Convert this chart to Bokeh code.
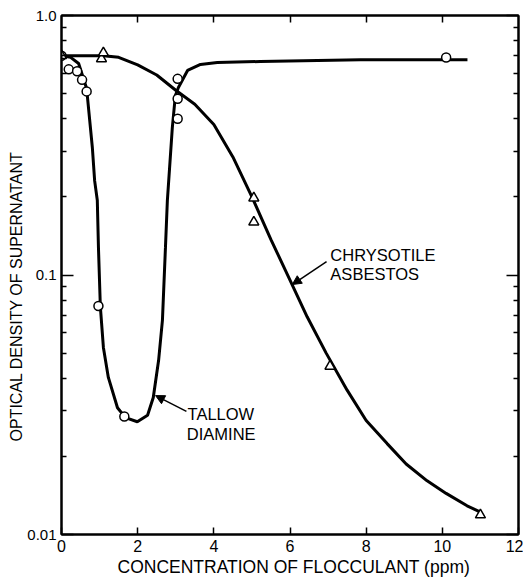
from bokeh.plotting import figure
from bokeh.models import (LinearAxis, LogAxis, FixedTicker, CustomJSTickFormatter,
                          Label, Arrow, NormalHead, Range1d, Title)
from bokeh.embed import file_html
from bokeh.resources import INLINE

# ---- data ----
tallow_pts_x = [0.0, 0.19, 0.41, 0.54, 0.66, 0.97, 1.65, 3.05, 3.05, 3.05, 10.1]
tallow_pts_y = [0.70, 0.62, 0.61, 0.565, 0.51, 0.076, 0.0285, 0.57, 0.478, 0.40, 0.689]

asbestos_pts_x = [0.0, 1.05, 1.1, 5.05, 5.05, 7.05, 11.0]
asbestos_pts_y = [0.70, 0.681, 0.718, 0.198, 0.160, 0.0445, 0.0119]

tallow_curve_x = [0.0, 0.24, 0.45, 0.66, 0.81, 0.87, 0.94, 0.97, 1.02, 1.10, 1.23, 1.47,
                  1.68, 1.99, 2.26, 2.41, 2.55, 2.65, 2.73, 2.78, 2.91, 2.99, 3.07, 3.31,
                  3.65, 4.09, 5.22, 7.85, 10.66]
tallow_curve_y = [0.70, 0.69, 0.653, 0.523, 0.31, 0.231, 0.194, 0.128, 0.0756, 0.0526,
                  0.0403, 0.0308, 0.0282, 0.0272, 0.0288, 0.0337, 0.0469, 0.0668, 0.128,
                  0.194, 0.370, 0.492, 0.528, 0.614, 0.648, 0.659, 0.665, 0.676, 0.676]

asbestos_curve_x = [0.0, 1.1, 1.5, 2.0, 2.5, 3.0, 3.5, 4.0, 4.5, 5.0, 5.5, 6.0, 6.45,
                    6.95, 7.5, 8.0, 8.55, 9.05, 9.6, 10.1, 10.65, 11.0]
asbestos_curve_y = [0.70, 0.70, 0.69, 0.645, 0.59, 0.515, 0.455, 0.38, 0.285, 0.20,
                    0.137, 0.0955, 0.069, 0.050, 0.036, 0.0275, 0.0224, 0.0187, 0.0161,
                    0.0144, 0.0129, 0.0122]

x_ticks = [0, 2, 4, 6, 8, 10, 12]
x_inner_ticks = [2, 4, 6, 8, 10]
y_ticks = [0.01, 0.1, 1.0]
y_tick_labels = ["0.01", "0.1", "1.0"]
y_minor_ticks = [0.02, 0.03, 0.04, 0.05, 0.06, 0.07, 0.08, 0.09,
                 0.2, 0.3, 0.4, 0.5, 0.6, 0.7, 0.8, 0.9]

x_title = "CONCENTRATION OF FLOCCULANT (ppm)"
y_title = "OPTICAL DENSITY OF SUPERNATANT"

FONT = "Liberation Sans"

p = figure(width=523, height=583, x_range=Range1d(0, 12), y_range=Range1d(0.01, 1.0),
           y_axis_type="log", output_backend="svg", toolbar_location=None,
           min_border_left=61, min_border_right=5, min_border_top=15, min_border_bottom=49,
           background_fill_color="white", border_fill_color="white")
p.xgrid.visible = False
p.ygrid.visible = False
p.outline_line_color = "black"
p.outline_line_width = 2

# bottom axis
xa = p.xaxis[0]
xa.ticker = FixedTicker(ticks=x_ticks, minor_ticks=[])
xa.major_tick_in = 7
xa.major_tick_out = 0
xa.minor_tick_in = 0
xa.minor_tick_out = 0
xa.axis_line_width = 2
xa.major_tick_line_width = 1.5
xa.major_label_text_font = FONT
xa.major_label_text_font_size = "16px"
xa.major_label_text_color = "black"
xa.major_label_standoff = 5

# left axis
ya = p.yaxis[0]
ya.ticker = FixedTicker(ticks=y_ticks, minor_ticks=y_minor_ticks)
ya.formatter = CustomJSTickFormatter(args=dict(t=y_ticks, l=y_tick_labels), code="""
    let best = 0, d = Infinity;
    for (let i = 0; i < t.length; i++) {
        const dd = Math.abs(Math.log10(tick) - Math.log10(t[i]));
        if (dd < d) { d = dd; best = i; }
    }
    return l[best];
""")
ya.major_tick_in = 12
ya.major_tick_out = 0
ya.minor_tick_in = 5
ya.minor_tick_out = 0
ya.axis_line_width = 2
ya.major_tick_line_width = 1.5
ya.minor_tick_line_width = 1.5
ya.major_label_text_font = FONT
ya.major_label_text_font_size = "15px"
ya.major_label_text_color = "black"
ya.major_label_standoff = 5

blank = CustomJSTickFormatter(code="return '';")

top = LinearAxis(ticker=FixedTicker(ticks=x_inner_ticks, minor_ticks=[]), formatter=blank,
                 major_tick_in=7, major_tick_out=0, minor_tick_in=0, minor_tick_out=0,
                 major_label_standoff=0, major_label_text_font_size="0px",
                 axis_line_width=2, major_tick_line_width=1.5)
p.add_layout(top, "above")

right = LogAxis(ticker=FixedTicker(ticks=y_ticks, minor_ticks=y_minor_ticks), formatter=blank,
                major_tick_in=12, major_tick_out=0, minor_tick_in=5, minor_tick_out=0,
                major_label_standoff=0, major_label_text_font_size="0px",
                axis_line_width=2, major_tick_line_width=1.5, minor_tick_line_width=1.5)
p.add_layout(right, "right")

# axis titles (align left + offset: text starts offset px from the frame's start)
p.add_layout(Title(text=x_title, align="left", offset=56, standoff=0,
                   text_font=FONT, text_font_size="17.5px", text_font_style="normal",
                   text_color="black"), "below")
p.add_layout(Title(text=y_title, align="left", offset=93, standoff=0,
                   text_font=FONT, text_font_size="16px", text_font_style="normal",
                   text_color="black"), "left")

# curves
p.line(asbestos_curve_x, asbestos_curve_y, line_width=3, color="black")
p.line(tallow_curve_x, tallow_curve_y, line_width=3, color="black")

# points
p.scatter(tallow_pts_x, tallow_pts_y, marker="circle", size=9, fill_color="white",
          line_color="black", line_width=1.5)
p.scatter(asbestos_pts_x, asbestos_pts_y, marker="triangle", size=10, fill_color="white",
          line_color="black", line_width=1.5)

# annotations
def lab(x, y, text, **kw):
    opts = dict(text_font=FONT, text_font_size="16.5px", text_color="black",
                text_baseline="alphabetic", text_align="left")
    opts.update(kw)
    p.add_layout(Label(x=x, y=y, text=text, **opts))

lab(3.31, 0.0292, "TALLOW")
lab(3.29, 0.0245, "DIAMINE")
lab(7.06, 0.1194, "CHRYSOTILE")
lab(7.06, 0.1011, "ASBESTOS")

p.add_layout(Arrow(end=NormalHead(size=9, fill_color="black", line_color="black"),
                   x_start=3.28, y_start=0.0298, x_end=2.47, y_end=0.0343,
                   line_width=1.5, line_color="black"))
p.add_layout(Arrow(end=NormalHead(size=9, fill_color="black", line_color="black"),
                   x_start=6.96, y_start=0.1127, x_end=6.06, y_end=0.0919,
                   line_width=1.5, line_color="black"))

open("out.html", "w").write(file_html(p, INLINE))
